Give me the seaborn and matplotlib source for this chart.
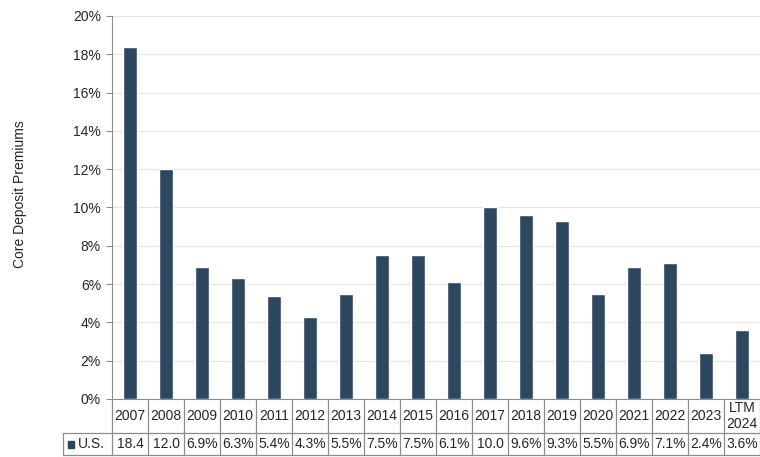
import matplotlib
matplotlib.use('Agg')
import matplotlib.pyplot as plt
import seaborn as sns
import pandas as pd
from matplotlib.lines import Line2D
from matplotlib.patches import Rectangle

years = ['2007', '2008', '2009', '2010', '2011', '2012', '2013', '2014', '2015',
         '2016', '2017', '2018', '2019', '2020', '2021', '2022', '2023', 'LTM\n2024']
premiums = [18.4, 12.0, 6.9, 6.3, 5.4, 4.3, 5.5, 7.5, 7.5,
            6.1, 10.0, 9.6, 9.3, 5.5, 6.9, 7.1, 2.4, 3.6]
table_labels = ['18.4', '12.0', '6.9%', '6.3%', '5.4%', '4.3%', '5.5%', '7.5%', '7.5%',
                '6.1%', '10.0', '9.6%', '9.3%', '5.5%', '6.9%', '7.1%', '2.4%', '3.6%']
series_name = 'U.S.'

bar_color = '#2D4760'
line_color = '#8C8C8C'

sns.set_style('white')
plt.rcParams['font.family'] = ['Liberation Sans', 'DejaVu Sans']

df = pd.DataFrame({'year': years, 'premium': premiums})

fig = plt.figure(figsize=(7.6, 4.57), dpi=100)
ax = fig.add_axes([112 / 760, 1 - 399 / 457, 648 / 760, 383 / 457])

sns.barplot(data=df, x='year', y='premium', color=bar_color, width=0.41,
            saturation=1, ax=ax)
ax.set_xlim(-0.5, len(years) - 0.5)
ax.set_ylim(0, 20)
ax.set_yticks(range(0, 21, 2))
ax.set_yticklabels([f'{v}%' for v in range(0, 21, 2)], fontsize=10)
ax.set_xticks([])
ax.set_xlabel('')
ax.set_ylabel('Core Deposit Premiums', fontsize=10)
ax.yaxis.set_label_coords((27 - 112) / 648, (399 - 194) / 383)
ax.yaxis.grid(True, color='#E3E3E3', linewidth=0.8)
ax.set_axisbelow(True)
for s in ['top', 'right']:
    ax.spines[s].set_visible(False)
ax.spines['left'].set_color(line_color)
ax.spines['bottom'].set_color(line_color)
ax.tick_params(axis='y', left=True, length=4, color=line_color, pad=4)

# data table under the axis
tr = ax.get_xaxis_transform()
px = 1 / 383  # one pixel in axes units (vertical)
y_mid = -(433 - 399) * px
y_bot = -(455 - 399) * px
x_left_label = -0.5 - (112 - 63) / 36
x_right = len(years) - 0.5

for i in range(len(years) + 1):
    ax.add_line(Line2D([i - 0.5, i - 0.5], [0, y_bot], transform=tr,
                       color=line_color, lw=0.9, clip_on=False))
ax.add_line(Line2D([x_left_label, x_left_label], [y_mid, y_bot], transform=tr,
                   color=line_color, lw=0.9, clip_on=False))
for yy in [y_mid, y_bot]:
    ax.add_line(Line2D([x_left_label, x_right], [yy, yy], transform=tr,
                       color=line_color, lw=0.9, clip_on=False))

for i, (yr, lab) in enumerate(zip(years, table_labels)):
    ax.text(i, y_mid / 2, yr, transform=tr, ha='center', va='center',
            fontsize=10, linespacing=1.1)
    ax.text(i, (y_mid + y_bot) / 2, lab, transform=tr, ha='center', va='center',
            fontsize=10)

ax.add_patch(Rectangle((x_left_label + 0.14, (y_mid + y_bot) / 2 - 3.5 * px),
                       0.17, 7 * px, transform=tr, color=bar_color, clip_on=False))
ax.text(x_left_label + 0.4, (y_mid + y_bot) / 2, series_name, transform=tr,
        ha='left', va='center', fontsize=10)

fig.savefig('out.png', dpi=100)
